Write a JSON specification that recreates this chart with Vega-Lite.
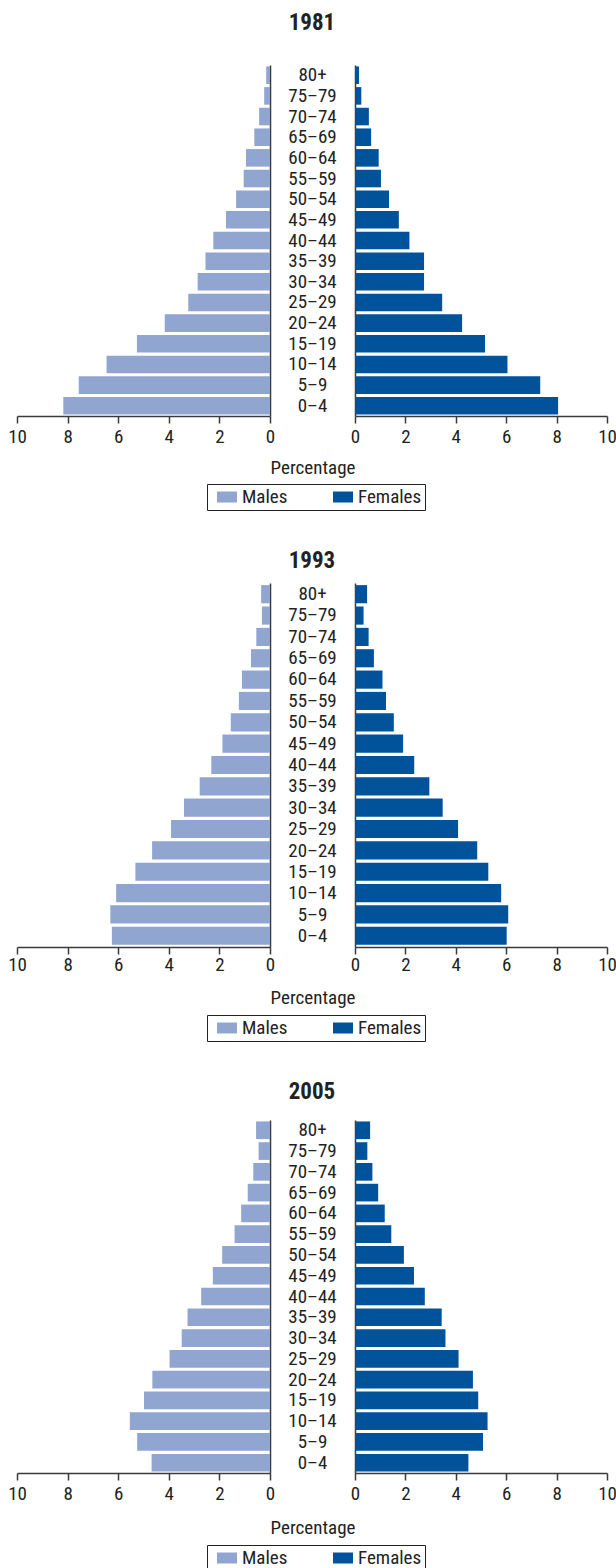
{
  "$schema": "https://vega.github.io/schema/vega-lite/v6.json",
  "padding": {"left": 7, "top": 12, "right": 0, "bottom": 0},
  "background": "white",
  "data": {"values": [
    {"year":1981,"sex":"Males","age":"80+","pct":0.15},
    {"year":1981,"sex":"Males","age":"75–79","pct":0.23},
    {"year":1981,"sex":"Males","age":"70–74","pct":0.43},
    {"year":1981,"sex":"Males","age":"65–69","pct":0.62},
    {"year":1981,"sex":"Males","age":"60–64","pct":0.95},
    {"year":1981,"sex":"Males","age":"55–59","pct":1.04},
    {"year":1981,"sex":"Males","age":"50–54","pct":1.34},
    {"year":1981,"sex":"Males","age":"45–49","pct":1.74},
    {"year":1981,"sex":"Males","age":"40–44","pct":2.24},
    {"year":1981,"sex":"Males","age":"35–39","pct":2.55},
    {"year":1981,"sex":"Males","age":"30–34","pct":2.86},
    {"year":1981,"sex":"Males","age":"25–29","pct":3.23},
    {"year":1981,"sex":"Males","age":"20–24","pct":4.16},
    {"year":1981,"sex":"Males","age":"15–19","pct":5.26},
    {"year":1981,"sex":"Males","age":"10–14","pct":6.46},
    {"year":1981,"sex":"Males","age":"5–9","pct":7.56},
    {"year":1981,"sex":"Males","age":"0–4","pct":8.17},
    {"year":1981,"sex":"Females","age":"80+","pct":0.16},
    {"year":1981,"sex":"Females","age":"75–79","pct":0.25},
    {"year":1981,"sex":"Females","age":"70–74","pct":0.55},
    {"year":1981,"sex":"Females","age":"65–69","pct":0.64},
    {"year":1981,"sex":"Females","age":"60–64","pct":0.94},
    {"year":1981,"sex":"Females","age":"55–59","pct":1.03},
    {"year":1981,"sex":"Females","age":"50–54","pct":1.35},
    {"year":1981,"sex":"Females","age":"45–49","pct":1.74},
    {"year":1981,"sex":"Females","age":"40–44","pct":2.16},
    {"year":1981,"sex":"Females","age":"35–39","pct":2.74},
    {"year":1981,"sex":"Females","age":"30–34","pct":2.74},
    {"year":1981,"sex":"Females","age":"25–29","pct":3.46},
    {"year":1981,"sex":"Females","age":"20–24","pct":4.25},
    {"year":1981,"sex":"Females","age":"15–19","pct":5.16},
    {"year":1981,"sex":"Females","age":"10–14","pct":6.05},
    {"year":1981,"sex":"Females","age":"5–9","pct":7.35},
    {"year":1981,"sex":"Females","age":"0–4","pct":8.06},
    {"year":1993,"sex":"Males","age":"80+","pct":0.35},
    {"year":1993,"sex":"Males","age":"75–79","pct":0.32},
    {"year":1993,"sex":"Males","age":"70–74","pct":0.54},
    {"year":1993,"sex":"Males","age":"65–69","pct":0.75},
    {"year":1993,"sex":"Males","age":"60–64","pct":1.11},
    {"year":1993,"sex":"Males","age":"55–59","pct":1.23},
    {"year":1993,"sex":"Males","age":"50–54","pct":1.55},
    {"year":1993,"sex":"Males","age":"45–49","pct":1.88},
    {"year":1993,"sex":"Males","age":"40–44","pct":2.32},
    {"year":1993,"sex":"Males","age":"35–39","pct":2.78},
    {"year":1993,"sex":"Males","age":"30–34","pct":3.4},
    {"year":1993,"sex":"Males","age":"25–29","pct":3.91},
    {"year":1993,"sex":"Males","age":"20–24","pct":4.66},
    {"year":1993,"sex":"Males","age":"15–19","pct":5.32},
    {"year":1993,"sex":"Males","age":"10–14","pct":6.08},
    {"year":1993,"sex":"Males","age":"5–9","pct":6.31},
    {"year":1993,"sex":"Males","age":"0–4","pct":6.25},
    {"year":1993,"sex":"Females","age":"80+","pct":0.48},
    {"year":1993,"sex":"Females","age":"75–79","pct":0.34},
    {"year":1993,"sex":"Females","age":"70–74","pct":0.54},
    {"year":1993,"sex":"Females","age":"65–69","pct":0.75},
    {"year":1993,"sex":"Females","age":"60–64","pct":1.09},
    {"year":1993,"sex":"Females","age":"55–59","pct":1.23},
    {"year":1993,"sex":"Females","age":"50–54","pct":1.54},
    {"year":1993,"sex":"Females","age":"45–49","pct":1.91},
    {"year":1993,"sex":"Females","age":"40–44","pct":2.35},
    {"year":1993,"sex":"Females","age":"35–39","pct":2.95},
    {"year":1993,"sex":"Females","age":"30–34","pct":3.48},
    {"year":1993,"sex":"Females","age":"25–29","pct":4.09},
    {"year":1993,"sex":"Females","age":"20–24","pct":4.85},
    {"year":1993,"sex":"Females","age":"15–19","pct":5.29},
    {"year":1993,"sex":"Females","age":"10–14","pct":5.8},
    {"year":1993,"sex":"Females","age":"5–9","pct":6.08},
    {"year":1993,"sex":"Females","age":"0–4","pct":6.02},
    {"year":2005,"sex":"Males","age":"80+","pct":0.55},
    {"year":2005,"sex":"Males","age":"75–79","pct":0.45},
    {"year":2005,"sex":"Males","age":"70–74","pct":0.66},
    {"year":2005,"sex":"Males","age":"65–69","pct":0.88},
    {"year":2005,"sex":"Males","age":"60–64","pct":1.14},
    {"year":2005,"sex":"Males","age":"55–59","pct":1.4},
    {"year":2005,"sex":"Males","age":"50–54","pct":1.89},
    {"year":2005,"sex":"Males","age":"45–49","pct":2.26},
    {"year":2005,"sex":"Males","age":"40–44","pct":2.72},
    {"year":2005,"sex":"Males","age":"35–39","pct":3.26},
    {"year":2005,"sex":"Males","age":"30–34","pct":3.49},
    {"year":2005,"sex":"Males","age":"25–29","pct":3.97},
    {"year":2005,"sex":"Males","age":"20–24","pct":4.65},
    {"year":2005,"sex":"Males","age":"15–19","pct":4.98},
    {"year":2005,"sex":"Males","age":"10–14","pct":5.54},
    {"year":2005,"sex":"Males","age":"5–9","pct":5.25},
    {"year":2005,"sex":"Males","age":"0–4","pct":4.68},
    {"year":2005,"sex":"Females","age":"80+","pct":0.6},
    {"year":2005,"sex":"Females","age":"75–79","pct":0.49},
    {"year":2005,"sex":"Females","age":"70–74","pct":0.69},
    {"year":2005,"sex":"Females","age":"65–69","pct":0.92},
    {"year":2005,"sex":"Females","age":"60–64","pct":1.18},
    {"year":2005,"sex":"Females","age":"55–59","pct":1.44},
    {"year":2005,"sex":"Females","age":"50–54","pct":1.94},
    {"year":2005,"sex":"Females","age":"45–49","pct":2.34},
    {"year":2005,"sex":"Females","age":"40–44","pct":2.77},
    {"year":2005,"sex":"Females","age":"35–39","pct":3.44},
    {"year":2005,"sex":"Females","age":"30–34","pct":3.59},
    {"year":2005,"sex":"Females","age":"25–29","pct":4.11},
    {"year":2005,"sex":"Females","age":"20–24","pct":4.68},
    {"year":2005,"sex":"Females","age":"15–19","pct":4.89},
    {"year":2005,"sex":"Females","age":"10–14","pct":5.26},
    {"year":2005,"sex":"Females","age":"5–9","pct":5.08},
    {"year":2005,"sex":"Females","age":"0–4","pct":4.5}
  ]},
  "config": {
    "view": {"stroke": null},
    "font": "Noto Sans Condensed, Roboto Condensed, Liberation Sans Narrow, DejaVu Sans Condensed, sans-serif",
    "text": {"font": "Noto Sans Condensed, Roboto Condensed, Liberation Sans Narrow, DejaVu Sans Condensed, sans-serif"},
    "axis": {"labelFont": "Noto Sans Condensed, Roboto Condensed, Liberation Sans Narrow, DejaVu Sans Condensed, sans-serif", "labelFontSize": 19, "labelColor": "#222222", "domainColor": "#3a3a3a", "domainWidth": 1.5, "tickColor": "#3a3a3a", "tickWidth": 1.5, "tickSize": 7, "grid": false, "labelPadding": 4, "labelFlush": false, "titleFont": "Noto Sans Condensed, Roboto Condensed, Liberation Sans Narrow, DejaVu Sans Condensed, sans-serif", "titleFontSize": 19, "titleFontWeight": "normal", "titleColor": "#222222"},
    "title": {"font": "Noto Sans Condensed, Roboto Condensed, Liberation Sans Narrow, DejaVu Sans Condensed, sans-serif", "fontSize": 23, "fontWeight": "bold", "color": "#222222", "anchor": "middle"},
    "legend": {"labelFont": "Noto Sans Condensed, Roboto Condensed, Liberation Sans Narrow, DejaVu Sans Condensed, sans-serif", "labelFontSize": 19, "labelColor": "#222222"}
  },
  "spacing": 39,
  "resolve": {"scale": {"color": "independent"}, "legend": {"color": "independent"}},
  "vconcat": [
    {
      "title": {"text": "1981", "offset": 30},
      "bounds": "flush",
      "spacing": 0,
      "hconcat": [
        {
          "width": 253, "height": 351,
          "transform": [{"filter": "datum.year == 1981 && datum.sex == 'Males'"}],
          "mark": {"type": "bar"},
          "encoding": {
            "y": {"field": "age", "type": "nominal", "scale": {"domain": ["80+","75–79","70–74","65–69","60–64","55–59","50–54","45–49","40–44","35–39","30–34","25–29","20–24","15–19","10–14","5–9","0–4"], "paddingInner": 0.15, "paddingOuter": 0.07}, "axis": {"orient": "right", "labels": false, "ticks": false, "title": null}},
            "x": {"field": "pct", "type": "quantitative", "scale": {"domain": [0, 10], "reverse": true, "nice": false}, "axis": {"values": [0,2,4,6,8,10], "title": null}},
            "color": {"field": "sex", "type": "nominal", "scale": {"domain": ["Males","Females"], "range": ["#91a5d1","#00529b"]},
              "legend": {"orient": "none", "legendX": 190, "legendY": 419, "direction": "horizontal", "title": null, "strokeColor": "#222222", "padding": 3, "symbolType": "M-1,-0.55H1V0.55H-1Z", "symbolSize": 400, "symbolStrokeWidth": 0, "symbolOffset": 7, "labelOffset": 5, "columnPadding": 38}}
          }
        },
        {
          "width": 85, "height": 351,
          "transform": [{"filter": "datum.year == 1981 && datum.sex == 'Females'"}],
          "mark": {"type": "text", "fontSize": 19, "color": "#222222", "align": "center", "baseline": "middle"},
          "encoding": {
            "y": {"field": "age", "type": "nominal", "scale": {"domain": ["80+","75–79","70–74","65–69","60–64","55–59","50–54","45–49","40–44","35–39","30–34","25–29","20–24","15–19","10–14","5–9","0–4"], "paddingInner": 0.15, "paddingOuter": 0.07}, "axis": null},
            "x": {"datum": 0, "type": "quantitative", "scale": {"domain": [-1, 1]}, "axis": {"title": "Percentage", "domain": false, "ticks": false, "labels": false, "titlePadding": 42}},
            "text": {"field": "age"}
          }
        },
        {
          "width": 252, "height": 351,
          "transform": [{"filter": "datum.year == 1981 && datum.sex == 'Females'"}],
          "mark": {"type": "bar"},
          "encoding": {
            "y": {"field": "age", "type": "nominal", "scale": {"domain": ["80+","75–79","70–74","65–69","60–64","55–59","50–54","45–49","40–44","35–39","30–34","25–29","20–24","15–19","10–14","5–9","0–4"], "paddingInner": 0.15, "paddingOuter": 0.07}, "axis": {"orient": "left", "labels": false, "ticks": false, "title": null}},
            "x": {"field": "pct", "type": "quantitative", "scale": {"domain": [0, 10], "nice": false}, "axis": {"values": [0,2,4,6,8,10], "title": null}},
            "color": {"field": "sex", "type": "nominal", "scale": {"domain": ["Males","Females"], "range": ["#91a5d1","#00529b"]}}
          }
        }
      ]
    },
    {
      "title": {"text": "1993", "offset": 10},
      "bounds": "flush",
      "spacing": 0,
      "hconcat": [
        {
          "width": 253, "height": 364,
          "transform": [{"filter": "datum.year == 1993 && datum.sex == 'Males'"}],
          "mark": {"type": "bar"},
          "encoding": {
            "y": {"field": "age", "type": "nominal", "scale": {"domain": ["80+","75–79","70–74","65–69","60–64","55–59","50–54","45–49","40–44","35–39","30–34","25–29","20–24","15–19","10–14","5–9","0–4"], "paddingInner": 0.15, "paddingOuter": 0.1}, "axis": {"orient": "right", "labels": false, "ticks": false, "title": null}},
            "x": {"field": "pct", "type": "quantitative", "scale": {"domain": [0, 10], "reverse": true, "nice": false}, "axis": {"values": [0,2,4,6,8,10], "title": null, "labelPadding": 1}},
            "color": {"field": "sex", "type": "nominal", "scale": {"domain": ["Males","Females"], "range": ["#91a5d1","#00529b"]},
              "legend": {"orient": "none", "legendX": 190, "legendY": 432, "direction": "horizontal", "title": null, "strokeColor": "#222222", "padding": 3, "symbolType": "M-1,-0.55H1V0.55H-1Z", "symbolSize": 400, "symbolStrokeWidth": 0, "symbolOffset": 7, "labelOffset": 5, "columnPadding": 38}}
          }
        },
        {
          "width": 85, "height": 364,
          "transform": [{"filter": "datum.year == 1993 && datum.sex == 'Females'"}],
          "mark": {"type": "text", "fontSize": 19, "color": "#222222", "align": "center", "baseline": "middle"},
          "encoding": {
            "y": {"field": "age", "type": "nominal", "scale": {"domain": ["80+","75–79","70–74","65–69","60–64","55–59","50–54","45–49","40–44","35–39","30–34","25–29","20–24","15–19","10–14","5–9","0–4"], "paddingInner": 0.15, "paddingOuter": 0.1}, "axis": null},
            "x": {"datum": 0, "type": "quantitative", "scale": {"domain": [-1, 1]}, "axis": {"title": "Percentage", "domain": false, "ticks": false, "labels": false, "titlePadding": 41}},
            "text": {"field": "age"}
          }
        },
        {
          "width": 252, "height": 364,
          "transform": [{"filter": "datum.year == 1993 && datum.sex == 'Females'"}],
          "mark": {"type": "bar"},
          "encoding": {
            "y": {"field": "age", "type": "nominal", "scale": {"domain": ["80+","75–79","70–74","65–69","60–64","55–59","50–54","45–49","40–44","35–39","30–34","25–29","20–24","15–19","10–14","5–9","0–4"], "paddingInner": 0.15, "paddingOuter": 0.1}, "axis": {"orient": "left", "labels": false, "ticks": false, "title": null}},
            "x": {"field": "pct", "type": "quantitative", "scale": {"domain": [0, 10], "nice": false}, "axis": {"values": [0,2,4,6,8,10], "title": null, "labelPadding": 1}},
            "color": {"field": "sex", "type": "nominal", "scale": {"domain": ["Males","Females"], "range": ["#91a5d1","#00529b"]}}
          }
        }
      ]
    },
    {
      "title": {"text": "2005", "offset": 16},
      "bounds": "flush",
      "spacing": 0,
      "hconcat": [
        {
          "width": 253, "height": 353,
          "transform": [{"filter": "datum.year == 2005 && datum.sex == 'Males'"}],
          "mark": {"type": "bar"},
          "encoding": {
            "y": {"field": "age", "type": "nominal", "scale": {"domain": ["80+","75–79","70–74","65–69","60–64","55–59","50–54","45–49","40–44","35–39","30–34","25–29","20–24","15–19","10–14","5–9","0–4"], "paddingInner": 0.15, "paddingOuter": 0.07}, "axis": {"orient": "right", "labels": false, "ticks": false, "title": null}},
            "x": {"field": "pct", "type": "quantitative", "scale": {"domain": [0, 10], "reverse": true, "nice": false}, "axis": {"values": [0,2,4,6,8,10], "title": null}},
            "color": {"field": "sex", "type": "nominal", "scale": {"domain": ["Males","Females"], "range": ["#91a5d1","#00529b"]},
              "legend": {"orient": "none", "legendX": 190, "legendY": 425, "direction": "horizontal", "title": null, "strokeColor": "#222222", "padding": 3, "symbolType": "M-1,-0.55H1V0.55H-1Z", "symbolSize": 400, "symbolStrokeWidth": 0, "symbolOffset": 7, "labelOffset": 5, "columnPadding": 38}}
          }
        },
        {
          "width": 85, "height": 353,
          "transform": [{"filter": "datum.year == 2005 && datum.sex == 'Females'"}],
          "mark": {"type": "text", "fontSize": 19, "color": "#222222", "align": "center", "baseline": "middle"},
          "encoding": {
            "y": {"field": "age", "type": "nominal", "scale": {"domain": ["80+","75–79","70–74","65–69","60–64","55–59","50–54","45–49","40–44","35–39","30–34","25–29","20–24","15–19","10–14","5–9","0–4"], "paddingInner": 0.15, "paddingOuter": 0.07}, "axis": null},
            "x": {"datum": 0, "type": "quantitative", "scale": {"domain": [-1, 1]}, "axis": {"title": "Percentage", "domain": false, "ticks": false, "labels": false, "titlePadding": 45}},
            "text": {"field": "age"}
          }
        },
        {
          "width": 252, "height": 353,
          "transform": [{"filter": "datum.year == 2005 && datum.sex == 'Females'"}],
          "mark": {"type": "bar"},
          "encoding": {
            "y": {"field": "age", "type": "nominal", "scale": {"domain": ["80+","75–79","70–74","65–69","60–64","55–59","50–54","45–49","40–44","35–39","30–34","25–29","20–24","15–19","10–14","5–9","0–4"], "paddingInner": 0.15, "paddingOuter": 0.07}, "axis": {"orient": "left", "labels": false, "ticks": false, "title": null}},
            "x": {"field": "pct", "type": "quantitative", "scale": {"domain": [0, 10], "nice": false}, "axis": {"values": [0,2,4,6,8,10], "title": null}},
            "color": {"field": "sex", "type": "nominal", "scale": {"domain": ["Males","Females"], "range": ["#91a5d1","#00529b"]}}
          }
        }
      ]
    }
  ]
}
